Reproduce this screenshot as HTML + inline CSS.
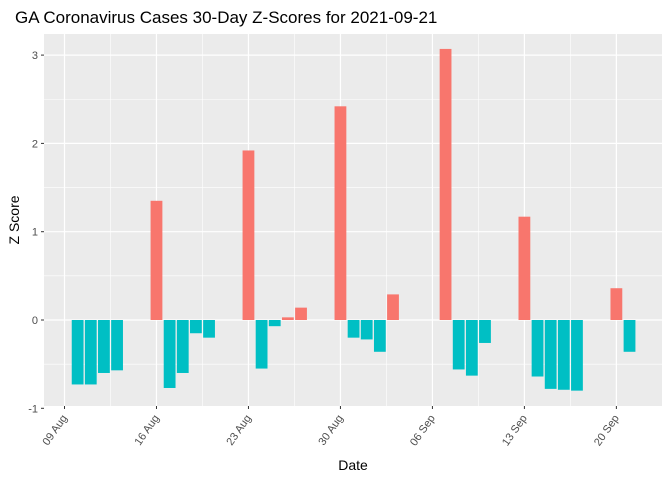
<!DOCTYPE html>
<html><head><meta charset="utf-8"><style>
body{margin:0;background:#fff;font-family:"Liberation Sans",sans-serif}
</style></head><body>
<svg width="672" height="480" xmlns="http://www.w3.org/2000/svg">
<rect x="0" y="0" width="672" height="480" fill="#fff"/>
<text x="15" y="23" font-size="17" fill="#000">GA Coronavirus Cases 30-Day Z-Scores for 2021-09-21</text>
<rect id="panel" x="44" y="34" width="618" height="372" fill="#EBEBEB"/>
<g id="grid"></g>
<g id="bars"></g>
<g id="axes"></g>
<text x="353" y="470" font-size="14" text-anchor="middle" fill="#000">Date</text>
<text transform="translate(19,220) rotate(-90)" font-size="14" text-anchor="middle" fill="#000">Z Score</text>
</svg>
<script>
const days = [1,2,3,4,7,8,9,10,11,14,15,16,17,18,21,22,23,24,25,29,30,31,32,35,36,37,38,39,42,43];
const zscores = [-0.73,-0.73,-0.6,-0.57,1.35,-0.77,-0.6,-0.15,-0.2,1.92,-0.55,-0.07,0.03,0.14,2.42,-0.2,-0.22,-0.36,0.29,3.07,-0.56,-0.63,-0.26,1.17,-0.64,-0.78,-0.79,-0.8,0.36,-0.36];
const yTicks = [-1,0,1,2,3];
const xTickDays = [0,7,14,21,28,35,42];
const xTickLabels = ["09 Aug","16 Aug","23 Aug","30 Aug","06 Sep","13 Sep","20 Sep"];
const NS="http://www.w3.org/2000/svg";
const x = d => 64.5 + d*13.14;
const y = v => 320 - v*88.3;
const L=44,R=662,T=34,B=406;
function mk(tag,attrs,parent){const e=document.createElementNS(NS,tag);for(const k in attrs)e.setAttribute(k,attrs[k]);parent.appendChild(e);return e;}
const grid=document.getElementById('grid'),bars=document.getElementById('bars'),axes=document.getElementById('axes');
for(let i=0;i<yTicks.length;i++){
  const v=yTicks[i];
  if(i<yTicks.length-1){const l=mk('line',{x1:L,x2:R,y1:y(v+0.5),y2:y(v+0.5),stroke:'#fff','stroke-width':0.6},grid);
  
  }
  const g=mk('line',{x1:L,x2:R,y1:y(v),y2:y(v),stroke:'#fff','stroke-width':1.2},grid);
  
  
  mk('line',{x1:L-3,x2:L,y1:y(v),y2:y(v),stroke:'#333','stroke-width':1},axes);
  const t=mk('text',{x:L-6,y:y(v)+4,'font-size':11,'text-anchor':'end',fill:'#4D4D4D'},axes);
  t.textContent=v;
  
  
}
for(let i=0;i<xTickDays.length;i++){
  const d=xTickDays[i];
  if(i<xTickDays.length-1){const l=mk('line',{x1:x(d+3.5),x2:x(d+3.5),y1:T,y2:B,stroke:'#fff','stroke-width':0.6},grid);
  
  }
  const g=mk('line',{x1:x(d),x2:x(d),y1:T,y2:B,stroke:'#fff','stroke-width':1.2},grid);
  
  
  mk('line',{x1:x(d),x2:x(d),y1:B,y2:B+3,stroke:'#333','stroke-width':1},axes);
  const t=mk('text',{transform:`translate(${x(d)+3},${B+12}) rotate(-55)`,'font-size':11,'text-anchor':'end',fill:'#4D4D4D'},axes);
  t.textContent=xTickLabels[i];
  
  
}
for(let i=0;i<days.length;i++){
  const v=zscores[i];
  const r=mk('rect',{x:x(days[i])-5.9,width:11.8,y:Math.min(y(v),y(0)),height:Math.abs(y(v)-y(0)),fill:v>0?'#F8766D':'#00BFC4'},bars);
  
  
}
</script>
</body></html>
